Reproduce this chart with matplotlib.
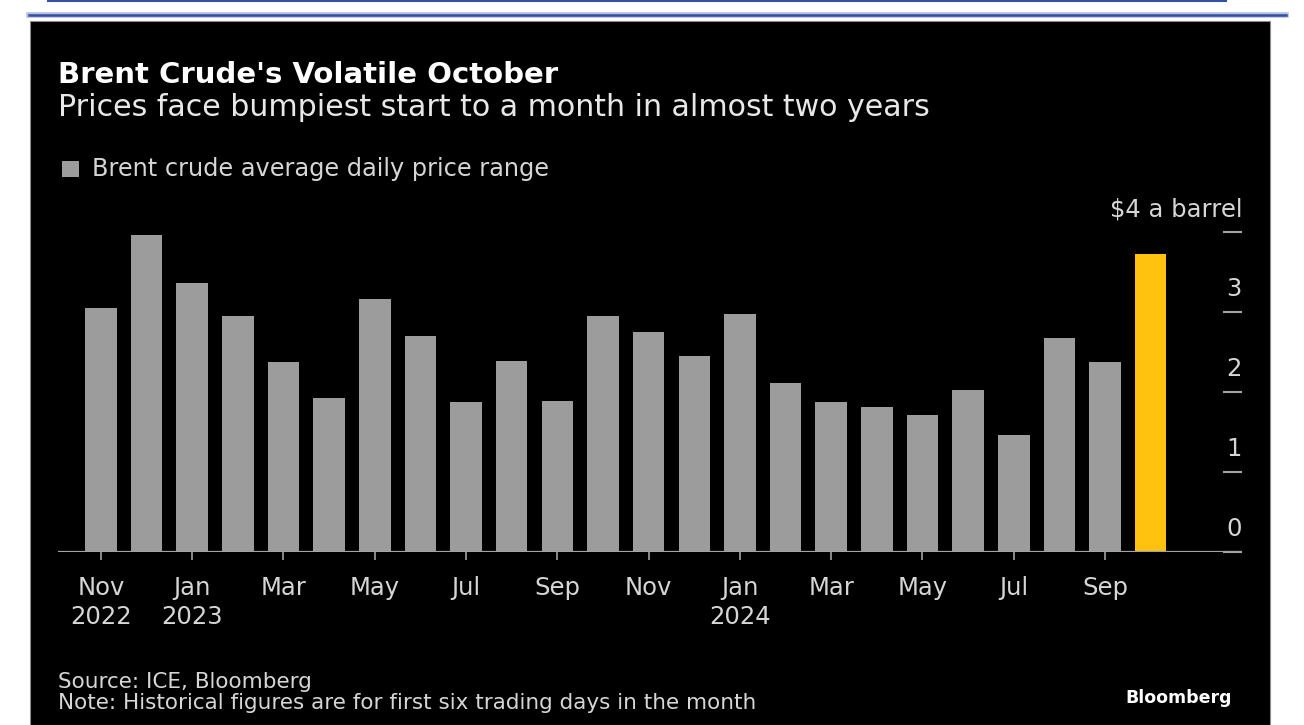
import matplotlib
matplotlib.use("Agg")
import matplotlib.pyplot as plt
from matplotlib.patches import Rectangle
from matplotlib.lines import Line2D
import matplotlib.transforms as mtransforms

# average daily price range of Brent crude, first six trading days of each month
months = ["Nov 2022", "Dec 2022", "Jan 2023", "Feb 2023", "Mar 2023", "Apr 2023",
          "May 2023", "Jun 2023", "Jul 2023", "Aug 2023", "Sep 2023", "Oct 2023",
          "Nov 2023", "Dec 2023", "Jan 2024", "Feb 2024", "Mar 2024", "Apr 2024",
          "May 2024", "Jun 2024", "Jul 2024", "Aug 2024", "Sep 2024", "Oct 2024"]
price_range = [3.05, 3.96, 3.36, 2.95, 2.38, 1.93, 3.16, 2.70, 1.88, 2.39, 1.89, 2.95,
               2.75, 2.45, 2.97, 2.11, 1.88, 1.81, 1.71, 2.02, 1.46, 2.68, 2.37, 3.73]
highlight = "Oct 2024"

tick_months = ["Nov 2022", "Jan 2023", "Mar 2023", "May 2023", "Jul 2023", "Sep 2023",
               "Nov 2023", "Jan 2024", "Mar 2024", "May 2024", "Jul 2024", "Sep 2024"]
tick_labels = ["Nov\n2022", "Jan\n2023", "Mar", "May", "Jul", "Sep",
               "Nov", "Jan\n2024", "Mar", "May", "Jul", "Sep"]
y_ticks = [0, 1, 2, 3, 4]
y_labels = ["0", "1", "2", "3", "$4 a barrel"]

GRAY = "#9c9c9c"
YELLOW = "#ffc20e"
AXIS = "#a3a3a3"
TXT = "#d6d6d6"

W, H = 1304, 725
fig = plt.figure(figsize=(W / 100, H / 100), dpi=100, facecolor="white")

def fx(px):
    return px / W

def fy(py):
    return 1 - py / H

# page decoration: blue rules and the black card
fig.add_artist(Line2D([fx(48), fx(1226)], [fy(1), fy(1)], color="#3552a0", lw=1.5))
fig.add_artist(Line2D([fx(29), fx(1286)], [fy(15), fy(15)], color="#b4c0e2", lw=4))
fig.add_artist(Line2D([fx(29), fx(1286)], [fy(15), fy(15)], color="#3650a0", lw=1.8))
fig.add_artist(Rectangle((fx(30), 0), fx(1270) - fx(30), fy(21), transform=fig.transFigure,
                         facecolor="black", edgecolor="#8a8a8a", lw=0.8, zorder=0))

ax = fig.add_axes([fx(58), fy(552), fx(1242) - fx(58), (552 - 208) / H])
ax.set_facecolor("none")

x = list(range(len(months)))
colors = [YELLOW if m == highlight else GRAY for m in months]
ax.bar(x, price_range, width=0.69, color=colors, zorder=2)

ax.set_xlim(-0.94, 25.0)
ax.set_ylim(0, 4.3)
for s in ax.spines.values():
    s.set_visible(False)
ax.axhline(0, color=AXIS, lw=1.6, zorder=3)

ax.set_xticks([months.index(m) for m in tick_months])
ax.set_xticklabels(tick_labels, fontsize=17.5, color=TXT, linespacing=1.3)
ax.tick_params(axis="x", length=6, width=1.2, color=AXIS, pad=11)

ax.set_yticks(y_ticks)
ax.set_yticklabels([])
ax.tick_params(axis="y", left=False, right=True, direction="in", length=14,
               width=1.5, color=AXIS)
off = mtransforms.offset_copy(ax.transData, fig=fig, x=0, y=16, units="dots")
blend = mtransforms.blended_transform_factory(ax.transAxes, off)
for v, lab in zip(y_ticks, y_labels):
    ax.text(1.0, v, lab, transform=blend, ha="right", va="baseline",
            fontsize=17.5, color=TXT)

# header
fig.text(fx(58), fy(83), "Brent Crude's Volatile October", fontsize=21,
         fontweight="bold", color="white", va="baseline")
fig.text(fx(58), fy(116), "Prices face bumpiest start to a month in almost two years",
         fontsize=21.6, color="#e8e8e8", va="baseline")
fig.add_artist(Rectangle((fx(62), fy(177)), fx(17), 16 / H, transform=fig.transFigure,
                         facecolor=GRAY, edgecolor="none"))
fig.text(fx(92), fy(176), "Brent crude average daily price range", fontsize=17.3,
         color=TXT, va="baseline")

# footer
fig.text(fx(58), fy(688), "Source: ICE, Bloomberg", fontsize=15.5, color=TXT, va="baseline")
fig.text(fx(58), fy(709), "Note: Historical figures are for first six trading days in the month",
         fontsize=15.5, color=TXT, va="baseline")
fig.text(fx(1232), fy(703), "Bloomberg", fontsize=12.5, fontweight="bold", color="white",
         ha="right", va="baseline")

fig.savefig("out.png", dpi=100, facecolor="white")
